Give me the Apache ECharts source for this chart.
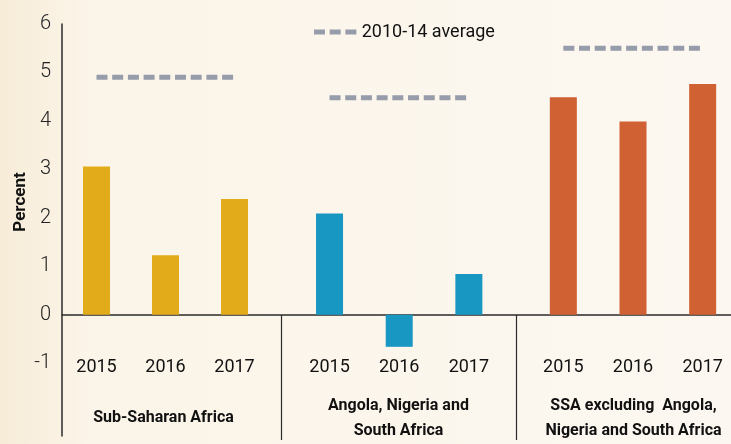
<!DOCTYPE html>
<html>
<head>
<meta charset="utf-8">
<script src="https://cdn.jsdelivr.net/npm/echarts@6/dist/echarts.min.js"></script>
<style>
  html, body { margin: 0; padding: 0; }
  #chart { width: 731px; height: 444px; }
</style>
</head>
<body>
<div id="chart"></div>
<script>
const years = ['2015', '2016', '2017'];
const groups = ['Sub-Saharan Africa', 'Angola, Nigeria and\nSouth Africa', 'SSA excluding  Angola,\nNigeria and South Africa'];
const ssa = [3.06, 1.23, 2.39];
const bigThree = [2.09, -0.66, 0.84];
const ssaExcl = [4.49, 3.99, 4.76];
const averages = [4.9, 4.48, 5.5];
const colors = ['#E1AB1A', '#1897C2', '#CF6133'];

const font = "Roboto, 'Liberation Sans', sans-serif";
const gridTop = 24, gridBottom = 8;
// keep v6 from shrinking the grids because of labels near the edges
const bigBounds = { left: -400, top: -400, right: -400, bottom: -400 };
// one grid per group so the gaps between groups match the original
const groupGrids = [
  { left: 62, width: 207 },
  { left: 294.7, width: 209 },
  { left: 528.5, width: 209 }
];
const yRange = { min: -2.5, max: 6, interval: 0.5 };
const values = [ssa, bigThree, ssaExcl];

let grids = [
  { left: 62, right: 0, top: gridTop, bottom: gridBottom, outerBounds: bigBounds }
];
groupGrids.forEach(g => grids.push({ left: g.left, width: g.width, top: gridTop, bottom: gridBottom, outerBounds: bigBounds }));
// grid used only for group names + separators, its axis sits at the bottom
grids.push({ left: 46, width: 705, top: gridTop, bottom: 4, outerBounds: bigBounds });

let xAxes = [{
  gridIndex: 0, type: 'category', data: [''],
  axisLine: { show: true, onZero: true, lineStyle: { color: '#2b2b2b', width: 1.5 } },
  axisTick: { show: false }, axisLabel: { show: false }
}];
let yAxes = [{
  gridIndex: 0, type: 'value', min: yRange.min, max: yRange.max, interval: yRange.interval,
  axisLine: { show: true, lineStyle: { color: '#2b2b2b', width: 1.5 } },
  axisTick: { show: false },
  splitLine: { show: false },
  axisLabel: {
    color: '#222', fontFamily: font, fontWeight: 300, fontSize: 20, margin: 11,
    formatter: v => (Number.isInteger(v) && v >= -1) ? String(v) : ''
  },
  name: 'Percent', nameLocation: 'middle', nameRotate: 90, nameGap: 33, nameMoveOverlap: false,
  nameTextStyle: { fontFamily: font, fontWeight: 'bold', fontSize: 17, color: '#111', padding: [0, 0, 0, 56] }
}];
for (let i = 0; i < 3; i++) {
  xAxes.push({
    gridIndex: i + 1, type: 'category', data: years,
    axisLine: { show: false, onZero: false },
    axisTick: { show: false },
    axisLabel: { show: true, interval: 0, color: '#111', fontFamily: font, fontSize: 18, margin: -69, verticalAlign: 'middle' }
  });
  yAxes.push({ gridIndex: i + 1, type: 'value', min: yRange.min, max: yRange.max, interval: yRange.interval, show: false });
}
// group names and separators
xAxes.push({
  gridIndex: 4, type: 'category', data: groups,
  axisLine: { show: false, onZero: false },
  axisTick: { show: true, inside: true, length: 125, interval: idx => idx > 0, lineStyle: { color: '#2b2b2b', width: 1.2 } },
  axisLabel: {
    show: true, interval: 0,
    color: '#111', fontFamily: font, fontWeight: 'bold', fontSize: 16, lineHeight: 25,
    margin: -22, verticalAlign: 'middle'
  }
});
yAxes.push({ gridIndex: 4, type: 'value', min: 0, max: 1, show: false });

let series = [];
for (let i = 0; i < 3; i++) {
  series.push({
    type: 'bar', name: 'g' + i, xAxisIndex: i + 1, yAxisIndex: i + 1,
    barWidth: 27, itemStyle: { color: colors[i] }, data: values[i], z: 2
  });
  series.push({
    type: 'line', name: '2010-14 average', xAxisIndex: i + 1, yAxisIndex: i + 1,
    symbol: 'none', silent: true, z: 3,
    lineStyle: { color: '#979CAA', width: 5, type: [11, 4.7], cap: 'butt' },
    itemStyle: { color: '#979CAA' },
    data: years.map(() => averages[i])
  });
}

const chart = echarts.init(document.getElementById('chart'), null, { renderer: 'canvas' });
chart.setOption({
  animation: false,
  backgroundColor: new echarts.graphic.LinearGradient(0, 0, 1, 0, [
    { offset: 0, color: '#F7ECD8' },
    { offset: 0.12, color: '#FBF4E8' },
    { offset: 1, color: '#FCF8F1' }
  ]),
  legend: {
    data: [{ name: '2010-14 average', icon: 'path://M0,0h11v5h-11z M15.7,0h11v5h-11z M31.4,0h11v5h-11z' }],
    left: 309, top: 18,
    itemWidth: 43, itemHeight: 5, itemGap: 10,
    itemStyle: { color: '#979CAA' },
    textStyle: { fontFamily: font, fontSize: 18, color: '#111' }
  },
  grid: grids,
  xAxis: xAxes,
  yAxis: yAxes,
  series: series
});
</script>
</body>
</html>
